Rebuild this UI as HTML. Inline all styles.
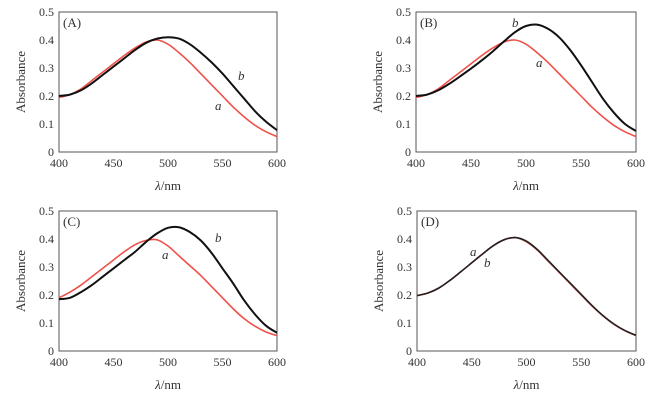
<!DOCTYPE html>
<html><head><meta charset="utf-8"><style>
html,body{margin:0;padding:0;background:#fff;}
svg{display:block;font-family:"Liberation Serif",serif;}
</style></head><body>
<svg id="fig" width="651" height="403"></svg>
<script>
const wl=[400,410,420,430,440,450,460,470,480,490,500,510,520,530,540,550,560,570,580,590,600];
const xTicks=[400,450,500,550,600];
const yTicks=[0,0.1,0.2,0.3,0.4,0.5];
const yTickLabels=["0","0.1","0.2","0.3","0.4","0.5"];
const aA=[0.195,0.205,0.225,0.255,0.285,0.315,0.345,0.372,0.393,0.400,0.385,0.355,0.320,0.280,0.240,0.200,0.160,0.125,0.095,0.072,0.055];
const bA=[0.20,0.205,0.22,0.245,0.275,0.305,0.335,0.365,0.39,0.405,0.41,0.405,0.385,0.355,0.32,0.28,0.235,0.19,0.145,0.108,0.078];
const aB=[0.195,0.205,0.225,0.255,0.285,0.315,0.345,0.372,0.393,0.400,0.385,0.355,0.320,0.280,0.240,0.200,0.160,0.125,0.095,0.072,0.055];
const bB=[0.20,0.205,0.22,0.243,0.27,0.298,0.328,0.36,0.395,0.428,0.450,0.455,0.44,0.41,0.365,0.31,0.25,0.19,0.14,0.10,0.075];
const aC=[0.19,0.21,0.235,0.265,0.295,0.325,0.355,0.38,0.395,0.397,0.375,0.34,0.305,0.27,0.23,0.19,0.15,0.115,0.088,0.068,0.055];
const bC=[0.185,0.19,0.21,0.235,0.265,0.295,0.325,0.355,0.39,0.42,0.44,0.442,0.425,0.395,0.35,0.295,0.24,0.18,0.13,0.09,0.065];
const aD=[0.197,0.207,0.225,0.252,0.283,0.315,0.347,0.377,0.398,0.405,0.39,0.36,0.32,0.28,0.24,0.20,0.16,0.125,0.095,0.072,0.055];
const bD=[0.198,0.207,0.225,0.252,0.283,0.315,0.347,0.377,0.398,0.405,0.392,0.362,0.322,0.282,0.242,0.202,0.162,0.126,0.096,0.073,0.056];

const panels=[
 {id:"A",x0:59,x1:277,y0:12,y1:152,a:aA,b:bA,la:[215,110],lb:[238,80]},
 {id:"B",x0:416,x1:636,y0:12,y1:152,a:aB,b:bB,la:[536,67],lb:[512,27]},
 {id:"C",x0:59,x1:277,y0:211,y1:351,a:aC,b:bC,la:[162,259],lb:[215,242]},
 {id:"D",x0:417,x1:636,y0:211,y1:351,a:aD,b:bD,la:[470,256],lb:[484,267]}
];
const NS="http://www.w3.org/2000/svg";
const svg=document.getElementById('fig');
function mk(tag,attrs,parent,txt){const e=document.createElementNS(NS,tag);for(const k in attrs)e.setAttribute(k,attrs[k]);if(txt!==undefined)e.textContent=txt;parent.appendChild(e);return e;}
function smooth(pts){let d="M"+pts[0][0]+","+pts[0][1];for(let i=0;i<pts.length-1;i++){const p0=pts[Math.max(0,i-1)],p1=pts[i],p2=pts[i+1],p3=pts[Math.min(pts.length-1,i+2)];const c1x=p1[0]+(p2[0]-p0[0])/6,c1y=p1[1]+(p2[1]-p0[1])/6,c2x=p2[0]-(p3[0]-p1[0])/6,c2y=p2[1]-(p3[1]-p1[1])/6;d+=" C"+c1x.toFixed(2)+","+c1y.toFixed(2)+" "+c2x.toFixed(2)+","+c2y.toFixed(2)+" "+p2[0].toFixed(2)+","+p2[1].toFixed(2);}return d;}
panels.forEach(p=>{
 const g=mk('g',{},svg);
 
 
 const X=v=>p.x0+(v-400)/200*(p.x1-p.x0);
 const Y=v=>p.y1-v/0.5*(p.y1-p.y0);
 const box=mk('rect',{x:p.x0,y:p.y0,width:p.x1-p.x0,height:p.y1-p.y0,fill:"none",stroke:"#555","stroke-width":1},g);
 
 
 yTicks.forEach((t,i)=>{const e=mk('text',{x:p.x0-5,y:Y(t)+4,"text-anchor":"end","font-size":"12",fill:"#333"},g,yTickLabels[i]);
  
  });
 xTicks.forEach(t=>{const e=mk('text',{x:X(t),y:p.y1+15,"text-anchor":"middle","font-size":"12",fill:"#333"},g,String(t));
  
  });
 const yl=mk('text',{x:0,y:0,transform:"translate("+(p.x0-34)+","+((p.y0+p.y1)/2)+") rotate(-90)","text-anchor":"middle","font-size":"13",fill:"#333"},g,"Absorbance");
 
 
 const xl=mk('text',{x:(p.x0+p.x1)/2,y:p.y1+38,"text-anchor":"middle","font-size":"13",fill:"#333"},g);
 
 
 mk('tspan',{"font-style":"italic"},xl,"λ");mk('tspan',{},xl,"/nm");
 const pl=mk('text',{x:p.x0+4,y:p.y0+15,"font-size":"13",fill:"#333"},g,"("+p.id+")");
 
 
 const ra=mk('path',{d:smooth(wl.map((w,i)=>[X(w),Y(p.a[i])])),fill:"none",stroke:"#f0504a","stroke-width":1.6},g);
 
 
 const rb=mk('path',{d:smooth(wl.map((w,i)=>[X(w),Y(p.b[i])])),fill:"none",stroke:p.id==="D"?"#222":"#111","stroke-width":p.id==="D"?1.6:2},g);
 
 
 const ta=mk('text',{x:p.la[0],y:p.la[1],"font-size":"13","font-style":"italic",fill:"#333"},g,"a");
 
 
 const tb=mk('text',{x:p.lb[0],y:p.lb[1],"font-size":"13","font-style":"italic",fill:"#333"},g,"b");
 
 
});
</script>
</body></html>
